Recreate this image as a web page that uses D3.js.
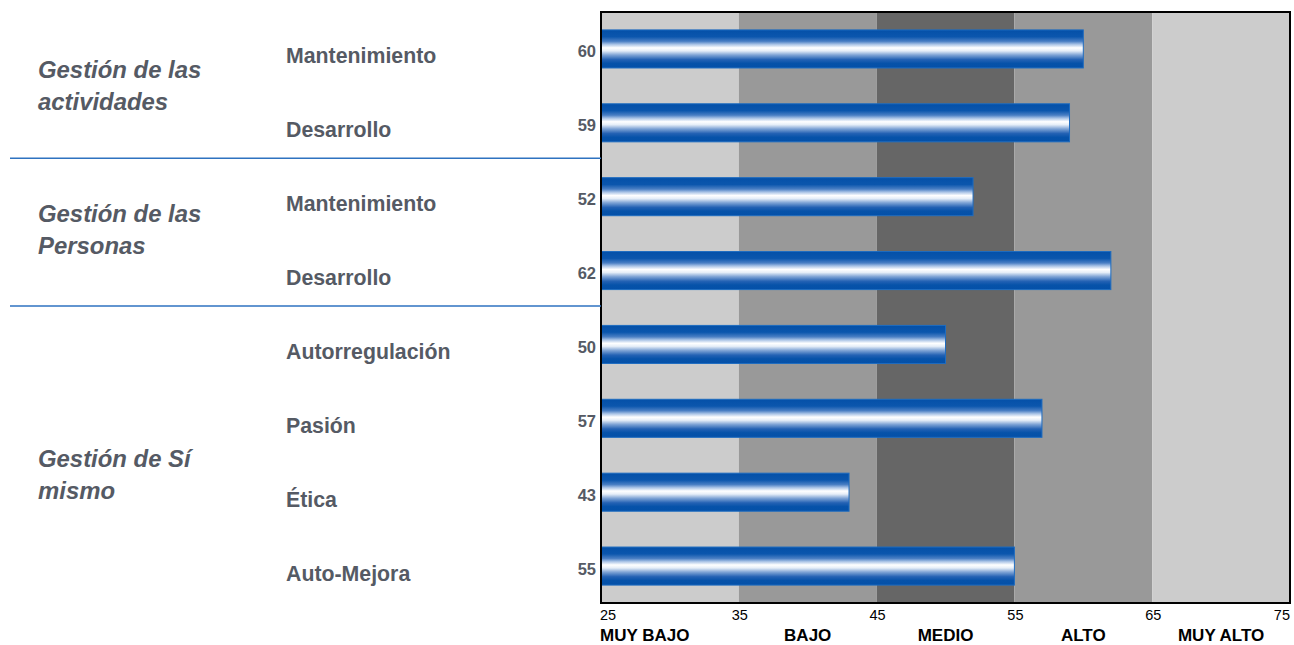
<!DOCTYPE html>
<html>
<head>
<meta charset="utf-8">
<script src="https://cdn.jsdelivr.net/npm/d3@7"></script>
<style>
  html, body { margin: 0; padding: 0; background: #fff; }
  svg { display: block; font-family: "Liberation Sans", Arial, sans-serif; }
</style>
</head>
<body>
<div id="app"></div>
<script>
// data
const categories = ["Mantenimiento", "Desarrollo", "Mantenimiento", "Desarrollo",
  "Autorregulación", "Pasión", "Ética", "Auto-Mejora"];
const values = [60, 59, 52, 62, 50, 57, 43, 55];
const groups = [
  { lines: ["Gestión de las", "actividades"], from: 0, to: 1 },
  { lines: ["Gestión de las", "Personas"], from: 2, to: 3 },
  { lines: ["Gestión de Sí", "mismo"], from: 4, to: 7 }
];
const tickValues = [25, 35, 45, 55, 65, 75];
const levels = ["MUY BAJO", "BAJO", "MEDIO", "ALTO", "MUY ALTO"];
const levelFills = ["#cccccc", "#999999", "#666666", "#999999", "#cccccc"];

const width = 1294, height = 645;
const plotLeft = 601, plotRight = 1290, plotTop = 12, plotBottom = 603;
const textColor = "#555a64";

const svg = d3.create("svg")
  .attr("width", width)
  .attr("height", height);

const x = d3.scaleLinear().domain([25, 75]).range([plotLeft, plotRight]);
const y = d3.scaleBand()
  .domain(d3.range(categories.length))
  .range([plotTop, plotBottom])
  .paddingInner(0.485)
  .paddingOuter(0.2425);
const rowH = (plotBottom - plotTop) / categories.length;
const rowCenter = i => plotTop + rowH * (i + 0.5);

// background bands
svg.append("g")
  .selectAll("rect")
  .data(levels)
  .join("rect")
  .attr("x", (d, i) => x(tickValues[i]))
  .attr("y", plotTop)
  .attr("width", (d, i) => x(tickValues[i + 1]) - x(tickValues[i]))
  .attr("height", plotBottom - plotTop)
  .attr("fill", (d, i) => levelFills[i]);

// bar gradient
const grad = svg.append("defs").append("linearGradient")
  .attr("id", "barGrad")
  .attr("x1", 0).attr("y1", 0).attr("x2", 0).attr("y2", 1);
[
  [0, "#0450a8"], [0.18, "#0b56ad"], [0.3, "#4a7fc4"], [0.38, "#a9c3e6"],
  [0.47, "#ffffff"], [0.55, "#e6eef8"], [0.66, "#7ea3d5"], [0.78, "#2462b4"],
  [0.88, "#0652a9"], [1, "#0450a8"]
].forEach(([o, c]) => grad.append("stop").attr("offset", o).attr("stop-color", c));

// bars
svg.append("g")
  .selectAll("rect")
  .data(values)
  .join("rect")
  .attr("x", x(25))
  .attr("y", (d, i) => y(i))
  .attr("width", d => x(d) - x(25))
  .attr("height", y.bandwidth())
  .attr("fill", "url(#barGrad)")
  .attr("stroke", "#1e6cc0")
  .attr("stroke-width", 1);

// plot frame
svg.append("rect")
  .attr("x", plotLeft)
  .attr("y", plotTop)
  .attr("width", plotRight - plotLeft)
  .attr("height", plotBottom - plotTop)
  .attr("fill", "none")
  .attr("stroke", "#000")
  .attr("stroke-width", 2);

// value labels
svg.append("g")
  .selectAll("text")
  .data(values)
  .join("text")
  .attr("x", plotLeft - 5)
  .attr("y", (d, i) => y(i) + y.bandwidth() / 2 + 8.5)
  .attr("text-anchor", "end")
  .attr("font-size", 16.5)
  .attr("font-weight", "bold")
  .attr("fill", textColor)
  .text(d => d);

// category labels
svg.append("g")
  .selectAll("text")
  .data(categories)
  .join("text")
  .attr("x", 286)
  .attr("y", (d, i) => y(i) + y.bandwidth() / 2 + 14.5)
  .attr("font-size", 21.3)
  .attr("font-weight", "bold")
  .attr("fill", textColor)
  .text(d => d);

// group labels
const groupNudge = [0, -4, 20];
groups.forEach((g, gi) => {
  const cy = (rowCenter(g.from) + rowCenter(g.to)) / 2 + groupNudge[gi];
  const t = svg.append("text")
    .attr("x", 38)
    .attr("font-size", 23.9)
    .attr("font-weight", "bold")
    .attr("font-style", "italic")
    .attr("fill", textColor);
  g.lines.forEach((line, li) => {
    t.append("tspan")
      .attr("x", 38)
      .attr("y", cy - 8 + li * 32)
      .text(line);
  });
});

// separators between groups
svg.append("g")
  .selectAll("line")
  .data(groups.slice(0, -1))
  .join("line")
  .attr("x1", 10)
  .attr("x2", plotLeft)
  .attr("y1", g => plotTop + rowH * (g.to + 1) - 1.5)
  .attr("y2", g => plotTop + rowH * (g.to + 1) - 1.5)
  .attr("stroke", "#2e72c0")
  .attr("stroke-width", 1.3);

// tick labels: centred on the tick, kept inside the frame at both ends
const lastTick = tickValues.length - 1;
svg.append("g")
  .selectAll("text")
  .data(tickValues)
  .join("text")
  .attr("x", (d, i) => i === 0 ? x(d) - 1 : i === lastTick ? x(d) : x(d) + 1)
  .attr("y", 620)
  .attr("text-anchor", (d, i) => i === 0 ? "start" : i === lastTick ? "end" : "middle")
  .attr("font-size", 14.5)
  .attr("fill", "#000")
  .text(d => d);

// level labels
svg.append("g")
  .selectAll("text")
  .data(levels)
  .join("text")
  .attr("x", (d, i) => i === 0 ? x(tickValues[0]) - 1 : (x(tickValues[i]) + x(tickValues[i + 1])) / 2)
  .attr("y", 641)
  .attr("text-anchor", (d, i) => i === 0 ? "start" : "middle")
  .attr("font-size", 17)
  .attr("font-weight", "bold")
  .attr("fill", "#000")
  .text(d => d);

document.getElementById("app").append(svg.node());
</script>
</body>
</html>
